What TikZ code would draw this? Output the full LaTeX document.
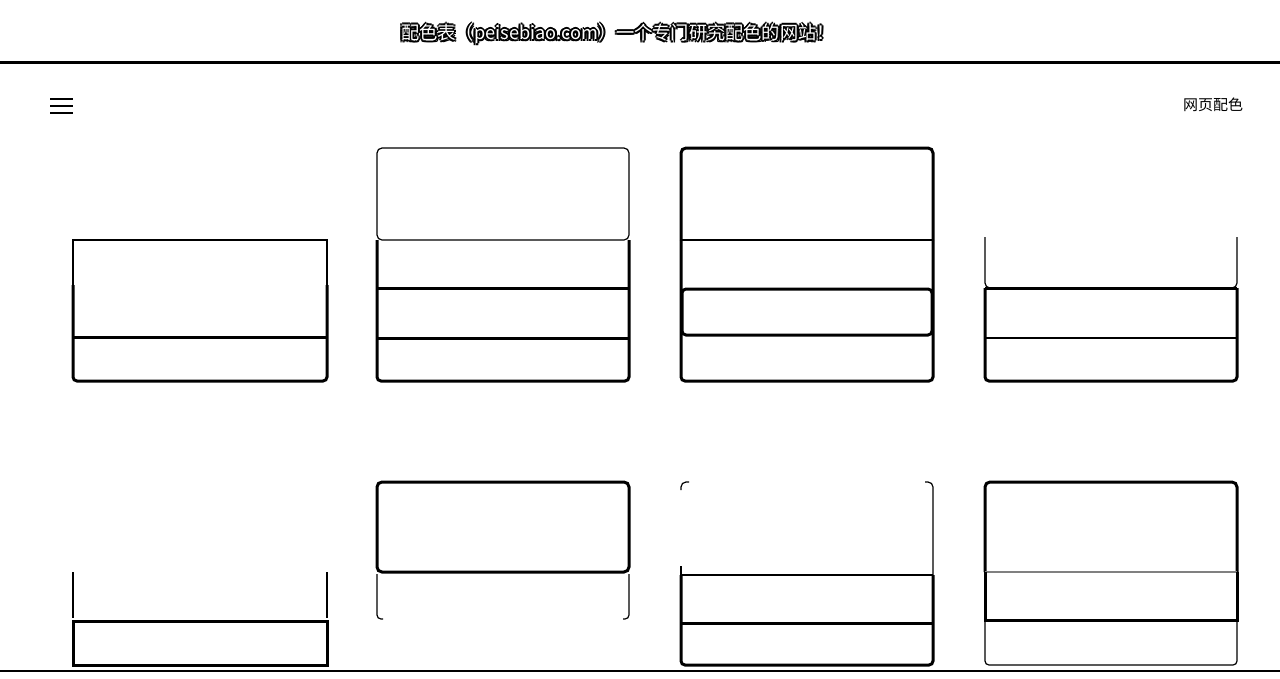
\documentclass[tikz,border=0pt]{standalone}
\usepackage{fontspec}
\newfontfamily\cjk{Noto Sans CJK SC}
\begin{document}
\begin{tikzpicture}[x=1pt, y=-1pt,
    hair/.style={line width=1.2pt},
    medium/.style={line width=2pt},
    bold/.style={line width=3pt},
    titlefont/.style={font=\cjk\fontsize{18.2}{18.2}\selectfont, inner sep=0pt},
    ]
    \useasboundingbox (0,0) rectangle (1280,678);
    \fill[white] (0,0) rectangle (1280,678);

    % Title with a black halo
    \foreach \dx/\dy in {-1.5/-1.5, 0/-2, 1.5/-1.5, -2/0, 2/0, -1.5/1.5, 0/2, 1.5/1.5}
        \node[titlefont, text=black] at (618+\dx,34+\dy) {配色表（peisebiao.com）一个专门研究配色的网站！};
    \node (title) [titlefont, text=white] at (618,34) {配色表（peisebiao.com）一个专门研究配色的网站！};

    % Header rule and bottom rule
    \draw[bold] (0,62) -- (1280,62);
    \draw[hair] (0,671) -- (1280,671);

    % Menu icon and navigation text
    \foreach \y in {99, 106, 113}
        \draw[medium] (50,\y) -- (73,\y);
    \node (nav) [font=\cjk\fontsize{15}{15}\selectfont, inner sep=0pt] at (1213,105) {网页配色};

    % Row 1, card 1
    \draw[hair] (73,285) -- (73,240) -- (327,240) -- (327,285);
    \draw[bold, rounded corners=4] (73,285) -- (73,381) -- (327,381) -- (327,285);
    \draw[bold] (73,337) -- (327,337);

    % Row 1, card 2
    \draw[hair, rounded corners=5] (377,148) rectangle (629,240);
    \draw[bold, rounded corners=4] (377,240) -- (377,381) -- (629,381) -- (629,240);
    \draw[bold] (377,288) -- (629,288);
    \draw[bold] (377,338) -- (629,338);

    % Row 1, card 3
    \draw[bold, rounded corners=5] (681,240) -- (681,148) -- (933,148) -- (933,240);
    \draw[hair] (681,240) -- (933,240);
    \draw[bold, rounded corners=4] (681,240) -- (681,381) -- (933,381) -- (933,240);
    \draw[bold, rounded corners=4] (682,289) rectangle (932,335);

    % Row 1, card 4
    \draw[hair, rounded corners=5] (985,237) -- (985,288) -- (1237,288) -- (1237,237);
    \draw[bold, rounded corners=4] (985,288) -- (985,381) -- (1237,381) -- (1237,288);
    \draw[bold] (985,288) -- (1237,288);
    \draw[medium] (985,338) -- (1237,338);

    % Row 2, card 1
    \draw[hair] (73,572) -- (73,618);
    \draw[hair] (327,572) -- (327,618);
    \draw[bold] (73,621) rectangle (327,665);

    % Row 2, card 2
    \draw[bold, rounded corners=5] (377,482) rectangle (629,572);
    \draw[hair, rounded corners=4] (377,574) -- (377,619) -- (383,619);
    \draw[hair, rounded corners=4] (629,574) -- (629,619) -- (623,619);

    % Row 2, card 3
    \draw[hair, rounded corners=5] (681,490) -- (681,482) -- (689,482);
    \draw[hair, rounded corners=5] (925,482) -- (933,482) -- (933,575);
    \draw[hair] (681,566) -- (681,575) -- (933,575);
    \draw[bold, rounded corners=4] (681,575) -- (681,665) -- (933,665) -- (933,575);
    \draw[bold] (681,623) -- (933,623);

    % Row 2, card 4
    \draw[bold, rounded corners=5] (985,572) -- (985,482) -- (1237,482) -- (1237,572);
    \draw[hair, gray] (985,572) -- (1237,572);
    \draw[bold] (985,572) -- (985,620) -- (1237,620) -- (1237,572);
    \draw[hair, rounded corners=4] (985,620) -- (985,665) -- (1237,665) -- (1237,620);
\end{tikzpicture}
\end{document}
